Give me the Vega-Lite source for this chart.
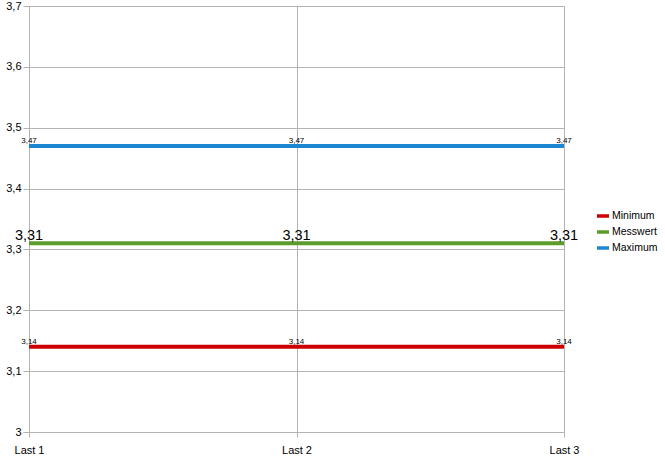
{
  "$schema": "https://vega.github.io/schema/vega-lite/v6.json",
  "autosize": {"type": "none"},
  "width": 535,
  "height": 426,
  "padding": {"left": 29, "top": 6, "right": 101, "bottom": 35},
  "background": "white",
  "config": {
    "locale": {"number": {"decimal": ",", "thousands": ".", "grouping": [3], "currency": ["", " €"]}},
    "font": "Liberation Sans",
    "view": {"stroke": null},
    "axis": {"gridColor": "#b3b3b3", "domainColor": "#b3b3b3", "tickColor": "#b3b3b3", "labelColor": "#000000", "labelFont": "Liberation Sans", "labelFontSize": 11, "gridOpacity": 1}
  },
  "data": {
    "values": [
      {"run": "Last 1", "series": "Minimum", "value": 3.14},
      {"run": "Last 2", "series": "Minimum", "value": 3.14},
      {"run": "Last 3", "series": "Minimum", "value": 3.14},
      {"run": "Last 1", "series": "Messwert", "value": 3.31},
      {"run": "Last 2", "series": "Messwert", "value": 3.31},
      {"run": "Last 3", "series": "Messwert", "value": 3.31},
      {"run": "Last 1", "series": "Maximum", "value": 3.47},
      {"run": "Last 2", "series": "Maximum", "value": 3.47},
      {"run": "Last 3", "series": "Maximum", "value": 3.47}
    ]
  },
  "encoding": {
    "x": {
      "field": "run", "type": "ordinal", "title": null,
      "scale": {"type": "point", "padding": 0},
      "axis": {"labelAngle": 0, "tickSize": 5, "labelPadding": 7, "grid": true, "domain": true}
    },
    "y": {
      "field": "value", "type": "quantitative", "title": null,
      "scale": {"domain": [3, 3.7], "nice": false, "zero": false},
      "axis": {"values": [3, 3.1, 3.2, 3.3, 3.4, 3.5, 3.6, 3.7], "format": "~g", "tickSize": 6, "labelPadding": 2, "grid": true}
    }
  },
  "layer": [
    {
      "mark": {"type": "line", "strokeWidth": 4, "strokeCap": "butt"},
      "encoding": {
        "color": {
          "field": "series", "type": "nominal",
          "scale": {"domain": ["Minimum", "Messwert", "Maximum"], "range": ["#cc0000", "#5c9c2c", "#1c86d0"]},
          "legend": {
            "title": null, "orient": "none", "legendX": 566, "legendY": 202,
            "symbolType": "stroke", "symbolStrokeWidth": 3.5, "symbolSize": 144,
            "labelFontSize": 10.5, "labelFont": "Liberation Sans", "labelColor": "#000000",
            "rowPadding": 1, "labelOffset": 1
          }
        }
      }
    },
    {
      "transform": [{"filter": "datum.series !== 'Messwert'"}],
      "mark": {"type": "text", "fontSize": 8, "baseline": "alphabetic", "dy": -3, "color": "#000000"},
      "encoding": {"text": {"field": "value", "type": "quantitative", "format": ".2f"}}
    },
    {
      "transform": [{"filter": "datum.series === 'Messwert'"}],
      "mark": {"type": "text", "fontSize": 14.5, "baseline": "alphabetic", "dy": -3, "color": "#000000"},
      "encoding": {"text": {"field": "value", "type": "quantitative", "format": ".2f"}}
    }
  ]
}
